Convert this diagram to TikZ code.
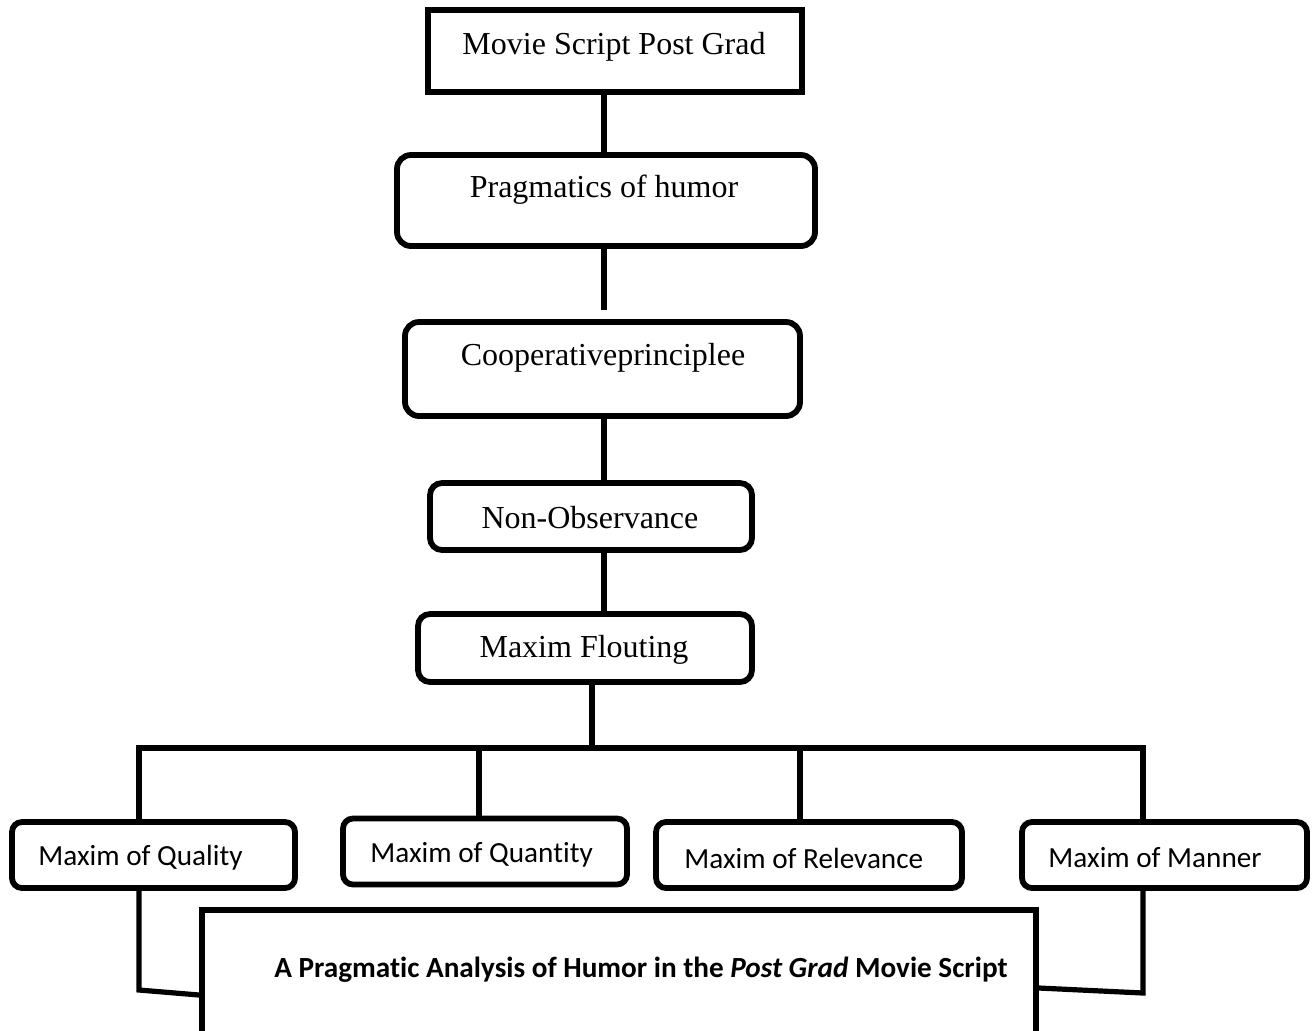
\documentclass[tikz,border=0pt]{standalone}
\usepackage{fontspec}
\setmainfont{Liberation Serif}
\newfontfamily\calibri[Ligatures=NoCommon]{Carlito}
\usepackage{tikz}
\usetikzlibrary{calc}

\begin{document}
\begin{tikzpicture}[x=0.5pt, y=-0.5pt,
    box/.style={draw, line width=2.9pt, rounded corners=6pt, inner sep=0pt},
    plainbox/.style={draw, line width=3.1pt, inner sep=0pt},
    link/.style={line width=2.6pt},
    serif label/.style={font=\fontsize{16}{19}\selectfont, inner sep=0pt},
    sans label/.style={font=\calibri\fontsize{14.6}{17}\selectfont, inner sep=0pt, anchor=west}]

        % 1. Fix the canvas (pixel grid of the page)
        \clip (0,0) rectangle (1315,1030);

        % 2. The chain of boxes down the middle
        \node[plainbox, minimum width=187pt, minimum height=41pt] (top) at (615,51) {};
        \node[box, minimum width=209pt, minimum height=45.5pt, rounded corners=7pt] (prag) at (606,200.5) {};
        \node[box, minimum width=197.5pt, minimum height=47pt, rounded corners=7pt] (coop) at (602.5,369) {};
        \node[box, minimum width=161pt, minimum height=33.5pt] (nonobs) at (591,516.5) {};
        \node[box, minimum width=167pt, minimum height=34pt] (flout) at (585,648) {};

        \node[serif label] (top-text) at (614,47) {Movie Script Post Grad};
        \node[serif label] (prag-text) at (604,190) {Pragmatics of humor};
        \node[serif label] (coop-text) at (603,358) {Cooperativeprinciplee};
        \node[serif label] (nonobs-text) at (590,518) {Non-Observance};
        \node[serif label] (flout-text) at (584,650) {Maxim Flouting};

        % 3. Links along the spine
        \coordinate (spine) at (604,0);
        \draw[link] (top.south -| spine) -- (prag.north -| spine);
        \draw[link] (prag.south -| spine) -- (spine |- 0,310);
        \draw[link] (coop.south -| spine) -- (nonobs.north -| spine);
        \draw[link] (nonobs.south -| spine) -- (flout.north -| spine);

        % 4. The four maxims
        \foreach \name/\cx/\cy/\w/\tx/\txt in {
            qual/153.5/855/141.5/38/Maxim of Quality,
            quan/485/851.5/142/370/Maxim of Quantity,
            rel/809/855/153/684/Maxim of Relevance,
            man/1164.5/855/142.5/1048/Maxim of Manner%
        } {
            \node[box, minimum width=\w pt, minimum height=33pt, rounded corners=5pt] (\name) at (\cx,\cy) {};
            \node[sans label] (\name-text) at (\tx,\cy+3) {\txt};
        }

        % 5. Bus from Maxim Flouting to the maxims
        \coordinate (drop) at (592,748);
        \coordinate (busL) at (139,748);
        \coordinate (busR) at (1143,748);
        \draw[link] (flout.south -| drop) -- (drop);
        \draw[link] (busL |- qual.north) -- (busL) -- (busR) -- (busR |- man.north);
        \draw[link] (479,748) -- (479,748 |- quan.north);
        \draw[link] (800,748) -- (800,748 |- rel.north);

        % 6. Title box at the bottom, joined to the outer maxims
        \node[plainbox, line width=2.9pt, minimum width=417pt, minimum height=65pt] (title) at (619,975) {};
        \node[sans label, anchor=center] (title-text) at (641,970)
            {\bfseries A Pragmatic Analysis of Humor in the \textit{Post Grad} Movie Script};
        \draw[link] (busL |- qual.south) -- (139,990) -- (title.west |- 0,995);
        \draw[link] (busR |- man.south) -- (1143,993) -- (title.east |- 0,988);

\end{tikzpicture}
\end{document}
